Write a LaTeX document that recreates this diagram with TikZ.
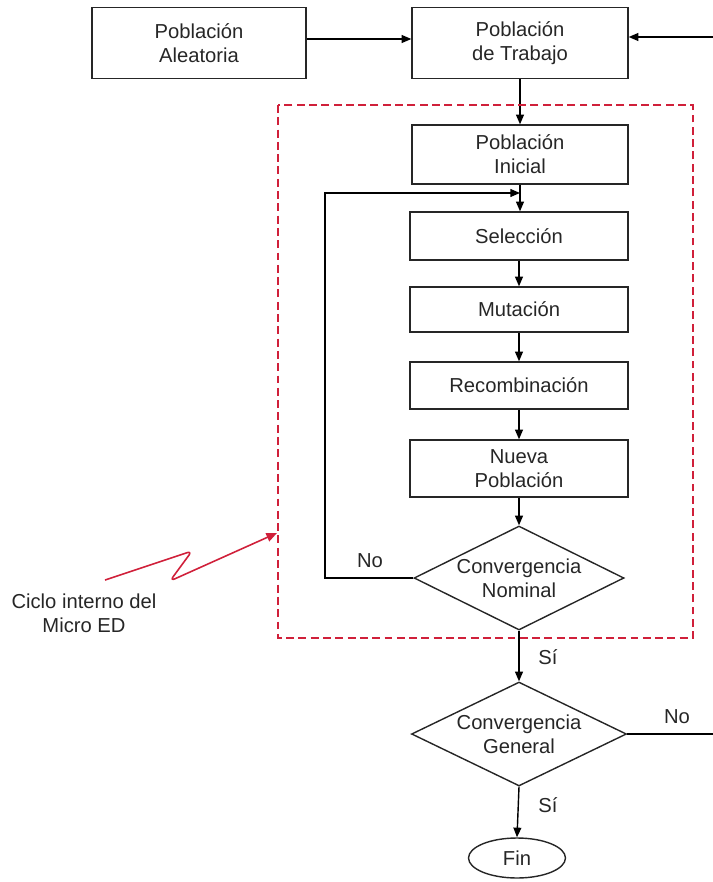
\documentclass[tikz,border=0pt]{standalone}
\usepackage{fontspec}
\setmainfont{Liberation Sans}
\usetikzlibrary{shapes.geometric,arrows.meta}
\definecolor{inkgray}{HTML}{262626}
\definecolor{loopred}{HTML}{D0203A}
\begin{document}
\begin{tikzpicture}[x=0.02cm,y=-0.02cm,
  font=\fontsize{11.5}{13.5}\selectfont,
  every node/.style={text=inkgray},
  procbox/.style={draw=inkgray, line width=0.8pt, align=center, inner sep=0pt},
  decision/.style={draw=inkgray, line width=0.8pt, diamond, aspect=2, inner sep=0pt,
    align=center, minimum width=4.2cm, minimum height=2.08cm},
  flow/.style={draw=black, line width=0.8pt, -{Triangle[length=5.5pt,width=4.5pt]}},
  plain/.style={draw=black, line width=0.8pt},
  lbl/.style={inner sep=1pt}
]
\useasboundingbox (0,0) rectangle (713,882);

% top row
\node[procbox, minimum width=4.28cm, minimum height=1.42cm] (aleat) at (199,43) {Población\\Aleatoria};
\node[procbox, minimum width=4.32cm, minimum height=1.42cm] (trab) at (520,43) {Población\\de Trabajo};
\coordinate (feedin) at (713,37);

% inner cycle
\node[procbox, minimum width=4.32cm, minimum height=1.18cm] (inic) at (520,154.5) {Población\\Inicial};
\node[procbox, minimum width=4.36cm, minimum height=0.96cm] (sel) at (519,236) {Selección};
\node[procbox, minimum width=4.36cm, minimum height=0.90cm] (mut) at (519,309.5) {Mutación};
\node[procbox, minimum width=4.36cm, minimum height=0.94cm] (rec) at (519,385.5) {Recombinación};
\node[procbox, minimum width=4.36cm, minimum height=1.14cm] (nueva) at (519,468.5) {Nueva\\Población};
\node[decision] (nom) at (519,578) {Convergencia\\Nominal};
\coordinate (loopbl) at (325,578);
\coordinate (looptl) at (325,193);
\coordinate (merge) at (520,193);

% outer decision and end
\node[decision, minimum width=4.3cm] (gen) at (519,734) {Convergencia\\General};
\coordinate (genout) at (713,734);
\node[draw=inkgray, line width=0.8pt, ellipse, minimum width=1.94cm, minimum height=0.8cm, inner sep=0pt] (fin) at (517,858) {Fin};

% connectors
\draw[flow] (aleat.east |- 0,39) -- (trab.west |- 0,39);
\draw[flow] (feedin) -- (trab.east |- feedin);
\draw[flow] (trab.south) -- (inic.north);
\draw[flow] (inic.south) -- (sel.north -| inic.south);
\draw[flow] (nom.west) -- (loopbl) -- (looptl) -- (merge);
\draw[flow] (sel.south) -- (mut.north);
\draw[flow] (mut.south) -- (rec.north);
\draw[flow] (rec.south) -- (nueva.north);
\draw[flow] (nueva.south) -- (nom.north);
\draw[flow] (nom.south) -- (gen.north);
\draw[plain] (gen.east) -- (genout);
\draw[flow] (gen.south) -- (fin.north);

% branch labels
\node[lbl] (noA) at (370,561) {No};
\node[lbl] (siA) at (548,657) {Sí};
\node[lbl] (noB) at (677,717) {No};
\node[lbl] (siB) at (548,805) {Sí};

% inner cycle frame and its callout
\draw[loopred, line width=0.8pt, dash pattern=on 4.5pt off 2.5pt] (278,105) rectangle (693,638);
\node[align=center, inner sep=0pt] (ciclo) at (84,613) {Ciclo interno del\\Micro ED};
\coordinate (zzstart) at (105,580);
\coordinate (zzend) at (277,533);
\draw[loopred, line width=0.9pt, rounded corners=3pt, -{Triangle[length=6pt,width=5pt]}]
  (zzstart) -- (192,551) -- (170,581) -- (zzend);
\end{tikzpicture}
\end{document}
